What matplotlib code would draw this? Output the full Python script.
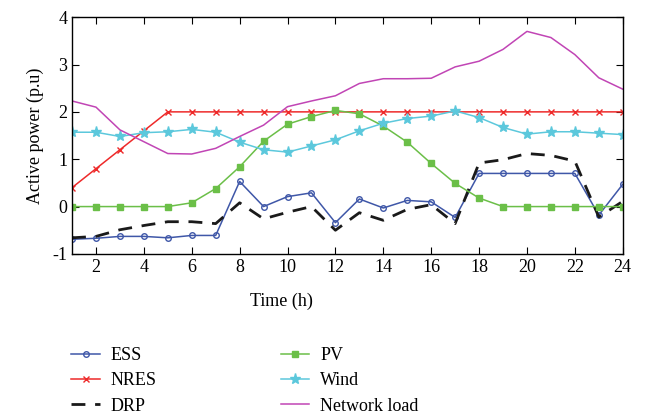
import numpy as np
import matplotlib.pyplot as plt

plt.rcParams['font.family'] = ['Liberation Serif', 'DejaVu Serif']
plt.rcParams['axes.unicode_minus'] = False

hours = np.arange(1, 25)

ess = [-0.69, -0.67, -0.63, -0.63, -0.66, -0.61, -0.61, 0.53, 0.0, 0.21, 0.29, -0.34,
       0.16, -0.03, 0.13, 0.10, -0.23, 0.70, 0.70, 0.70, 0.70, 0.70, -0.18, 0.47]
nres = [0.40, 0.80, 1.20, 1.60, 2.0, 2.0, 2.0, 2.0, 2.0, 2.0, 2.0, 2.0,
        2.0, 2.0, 2.0, 2.0, 2.0, 2.0, 2.0, 2.0, 2.0, 2.0, 2.0, 2.0]
drp = [-0.66, -0.63, -0.49, -0.40, -0.32, -0.32, -0.36, 0.08, -0.26, -0.12, 0.0, -0.50,
       -0.13, -0.29, -0.06, 0.04, -0.36, 0.92, 0.99, 1.12, 1.08, 0.96, -0.22, 0.11]
pv = [0, 0, 0, 0, 0, 0.08, 0.38, 0.84, 1.38, 1.74, 1.90, 2.03,
      1.96, 1.70, 1.36, 0.91, 0.49, 0.18, 0, 0, 0, 0, 0, 0]
wind = [1.57, 1.57, 1.48, 1.56, 1.58, 1.63, 1.57, 1.36, 1.20, 1.15, 1.28, 1.41,
        1.60, 1.76, 1.86, 1.91, 2.02, 1.88, 1.67, 1.53, 1.58, 1.58, 1.55, 1.52]
load = [2.23, 2.10, 1.62, 1.37, 1.12, 1.11, 1.23, 1.48, 1.72, 2.11, 2.23, 2.34,
        2.60, 2.70, 2.70, 2.71, 2.95, 3.07, 3.32, 3.70, 3.57, 3.21, 2.72, 2.48]

fig = plt.figure(figsize=(6.46, 4.19), dpi=100)
ax = fig.add_axes([0.1115, 0.394, 0.8525, 0.565])

ax.plot(hours, ess, '-o', color='#3f57a8', lw=1.1, ms=4, mfc='none', mew=1.0, label='ESS')
ax.plot(hours, nres, '-x', color='#ee2a2a', lw=1.1, ms=4, mew=1.0, label='NRES')
ax.plot(hours, drp, '--', color='#1a1a1a', lw=2.0, dashes=(5, 3.5), label='DRP')
ax.plot(hours, pv, '-s', color='#6bbf48', lw=1.1, ms=4.5, label='PV')
ax.plot(hours, wind, '-*', color='#5cc8dc', lw=1.1, ms=8, label='Wind')
ax.plot(hours, load, '-', color='#c145b5', lw=1.1, label='Network load')

ax.set_xlim(1, 24)
ax.set_ylim(-1, 4)
ax.set_xticks(np.arange(2, 25, 2))
ax.set_yticks(np.arange(-1, 5, 1))
ax.tick_params(direction='in', top=True, right=True, labelsize=13, length=5)
for s in ax.spines.values():
    s.set_linewidth(1.0)

ax.set_xlabel('Time (h)', fontsize=13)
ax.xaxis.set_label_coords(0.38, -0.165)
ax.set_ylabel('Active power (p.u)', fontsize=13)
ax.yaxis.set_label_coords(-0.05, 0.5)

fig.legend(loc='upper left', bbox_to_anchor=(0.085, 0.21), ncol=2, frameon=False,
           fontsize=13, handlelength=1.6, handletextpad=0.6, columnspacing=6.85,
           labelspacing=0.45)

fig.savefig('out.png', dpi=100)
